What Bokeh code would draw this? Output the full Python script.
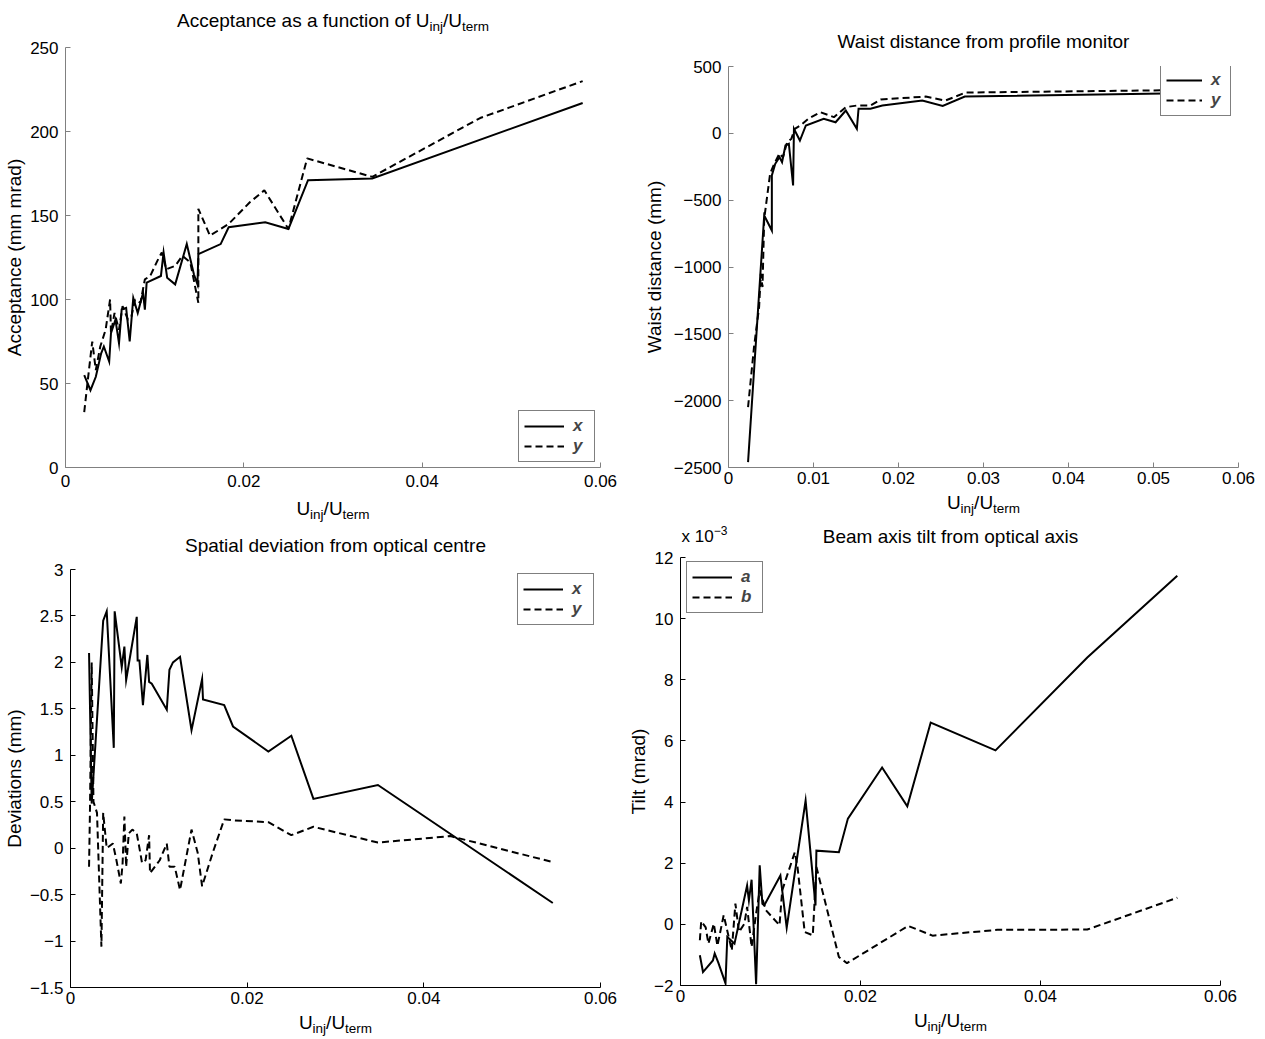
from bokeh.plotting import figure
from bokeh.models import Range1d, FixedTicker, Label
from bokeh.layouts import row, column
from bokeh.embed import file_html
from bokeh.resources import INLINE

# ---------------- data ----------------
# Acceptance (mm mrad) vs U_inj/U_term
acc_x_u = [0.0021, 0.0028, 0.0034, 0.0040, 0.0043, 0.0049, 0.0051, 0.0056, 0.0060, 0.0063,
           0.0068, 0.0072, 0.0076, 0.0081, 0.0087, 0.0089, 0.0091, 0.0107, 0.0110, 0.0114,
           0.0123, 0.0136, 0.0144, 0.0148, 0.0149, 0.0174, 0.0183, 0.0224, 0.0250, 0.0272,
           0.0344, 0.0580]
acc_x = [55, 46, 54, 68, 72, 63, 80, 88, 74, 94,
         95, 75, 101, 92, 104, 94, 110, 114, 128, 113,
         109, 133, 115, 109, 127, 133, 143, 146, 142, 171,
         172, 217]
acc_y_u = [0.0021, 0.0025, 0.0030, 0.0034, 0.0039, 0.0045, 0.0050, 0.0051, 0.0055, 0.0060,
           0.0064, 0.0070, 0.0074, 0.0078, 0.0084, 0.0089, 0.0095, 0.0103, 0.0108, 0.0113,
           0.0123, 0.0131, 0.0140, 0.0149, 0.0149, 0.0162, 0.0183, 0.0207, 0.0223, 0.0250,
           0.0271, 0.0344, 0.0465, 0.0580]
acc_y = [33, 52, 75, 58, 72, 82, 100, 80, 92, 82,
         96, 88, 90, 100, 98, 112, 114, 123, 128, 118,
         120, 126, 122, 98, 154, 138, 145, 158, 165, 142,
         184, 173, 208, 230]

# Waist distance (mm)
waist_x_u = [0.0023, 0.0042, 0.0051, 0.0051, 0.0055, 0.0060, 0.0063, 0.0067, 0.0071, 0.0076,
             0.0077, 0.0084, 0.0091, 0.0112, 0.0126, 0.0138, 0.0151, 0.0153, 0.0167, 0.0181,
             0.0228, 0.0252, 0.0278, 0.0590]
waist_x = [-2460, -615, -727, -315, -228, -178, -216, -91, -78, -390,
           34, -54, 59, 109, 83, 171, 34, 184, 184, 208,
           245, 205, 275, 305]
waist_y_u = [0.0023, 0.0030, 0.0036, 0.0038, 0.0040, 0.0042, 0.0049, 0.0053, 0.0060, 0.0064,
             0.0069, 0.0074, 0.0078, 0.0085, 0.0094, 0.0108, 0.0124, 0.0138, 0.0151, 0.0167,
             0.0179, 0.0232, 0.0255, 0.0279, 0.0590]
waist_y = [-2049, -1600, -1300, -1050, -1150, -640, -300, -240, -150, -180,
           -66, -40, 34, 60, 109, 158, 121, 196, 208, 208,
           253, 275, 245, 305, 328]

# Deviations (mm)
dev_x_u = [0.0021, 0.0024, 0.0037, 0.0041, 0.0049, 0.0050, 0.0058, 0.0061, 0.0063, 0.0075,
           0.0076, 0.0078, 0.0082, 0.0087, 0.0089, 0.0092, 0.0109, 0.0112, 0.0116, 0.0124,
           0.0137, 0.0149, 0.0150, 0.0174, 0.0184, 0.0224, 0.0250, 0.0275, 0.0348, 0.0546]
dev_x = [2.10, 0.48, 2.45, 2.55, 1.08, 2.55, 1.95, 2.17, 1.81, 2.49,
         2.02, 2.02, 1.54, 2.08, 1.79, 1.77, 1.49, 1.92, 2.00, 2.06,
         1.27, 1.82, 1.60, 1.54, 1.31, 1.04, 1.21, 0.53, 0.68, -0.59]
dev_y_u = [0.0021, 0.0022, 0.0024, 0.0026, 0.0030, 0.0035, 0.0037, 0.0041, 0.0048, 0.0052,
           0.0057, 0.0059, 0.0061, 0.0063, 0.0066, 0.0070, 0.0075, 0.0079, 0.0081, 0.0085,
           0.0089, 0.0090, 0.0101, 0.0109, 0.0112, 0.0118, 0.0124, 0.0137, 0.0144, 0.0149,
           0.0161, 0.0174, 0.0184, 0.0224, 0.0250, 0.0275, 0.0348, 0.0430, 0.0546]
dev_y = [-0.20, 0.38, 2.00, 0.50, 0.38, -1.06, 0.38, 0.00, 0.05, -0.13,
         -0.38, -0.16, 0.34, -0.20, 0.16, 0.20, 0.16, -0.05, -0.16, -0.13,
         0.14, -0.27, -0.13, 0.05, -0.20, -0.20, -0.45, 0.20, -0.05, -0.41,
         -0.05, 0.31, 0.30, 0.28, 0.14, 0.23, 0.06, 0.13, -0.15]

# Tilt (mrad), in units of 1e-3
tilt_a_u = [0.00215, 0.0025, 0.0036, 0.0038, 0.0042, 0.0050, 0.0052, 0.0056, 0.0060, 0.0074,
            0.0076, 0.0079, 0.0084, 0.0088, 0.0091, 0.0093, 0.0111, 0.0118, 0.0139, 0.0150,
            0.0151, 0.0176, 0.0186, 0.0224, 0.0252, 0.0278, 0.0350, 0.0452, 0.0552]
tilt_a = [-1.01, -1.56, -1.18, -0.95, -1.25, -1.93, -0.41, -0.52, -0.63, 1.27,
          0.78, 1.46, -1.96, 1.93, 0.67, 0.62, 1.60, -0.11, 4.05, 0.62,
          2.41, 2.36, 3.46, 5.13, 3.86, 6.60, 5.69, 8.73, 11.40]
tilt_b_u = [0.00215, 0.0023, 0.0028, 0.0031, 0.0037, 0.0041, 0.0048, 0.0057, 0.0061, 0.0065,
            0.0071, 0.0074, 0.0079, 0.0084, 0.0088, 0.0095, 0.0110, 0.0113, 0.0127, 0.0130,
            0.0138, 0.0147, 0.0151, 0.0176, 0.0185, 0.0253, 0.0280, 0.0352, 0.0452, 0.0552]
tilt_b = [-0.52, 0.10, -0.10, -0.63, 0.02, -0.70, 0.30, -0.85, 0.68, -0.25,
          0.02, 0.57, -0.74, 0.35, 1.11, 0.46, -0.03, 1.11, 2.36, 1.88,
          -0.25, -0.36, 1.88, -1.07, -1.27, -0.05, -0.37, -0.18, -0.17, 0.87]

# tick labels
x_ticks_2 = [0, 0.02, 0.04, 0.06]
x_labels_2 = ["0", "0.02", "0.04", "0.06"]
x_ticks_1 = [0, 0.01, 0.02, 0.03, 0.04, 0.05, 0.06]
x_labels_1 = ["0", "0.01", "0.02", "0.03", "0.04", "0.05", "0.06"]
acc_ticks = [0, 50, 100, 150, 200, 250]
acc_labels = ["0", "50", "100", "150", "200", "250"]
waist_ticks = [-2500, -2000, -1500, -1000, -500, 0, 500]
waist_labels = ["\u22122500", "\u22122000", "\u22121500", "\u22121000", "\u2212500", "0", "500"]
dev_ticks = [-1.5, -1, -0.5, 0, 0.5, 1, 1.5, 2, 2.5, 3]
dev_labels = ["\u22121.5", "\u22121", "\u22120.5", "0", "0.5", "1", "1.5", "2", "2.5", "3"]
tilt_ticks = [-2, 0, 2, 4, 6, 8, 10, 12]
tilt_labels = ["\u22122", "0", "2", "4", "6", "8", "10", "12"]

# ---------------- styling helpers ----------------
FONT = "Liberation Sans"
TICK_PX = 17
LAB_PX = 19
SUB_PX = 13.5
DASH = "7 4"
GRAY = "#808080"
FIX = 7  # compensates the renderer's baseline placement

ARIAL = {'A': 667, 'c': 500, 'e': 556, 'p': 556, 't': 278, 'a': 556, 'n': 556, ' ': 278,
         's': 500, 'f': 278, 'u': 556, 'i': 222, 'o': 556, 'U': 722, 'j': 222, '/': 278,
         'r': 333, 'm': 833, 'x': 500}


def tw(s, px):
    return sum(ARIAL.get(ch, 556) for ch in s) / 1000.0 * px


def lab(p, text, x, y, xoff=0, px=LAB_PX, align="left"):
    p.add_layout(Label(x=x, y=y + FIX, x_units="data", y_units="data", text=text,
                       x_offset=xoff, y_offset=0, text_font=FONT,
                       text_font_size=f"{px}px", text_align=align,
                       text_baseline="alphabetic", text_color="black"))


def composite(p, pieces, x, y):
    widths = [tw(t, SUB_PX if s else LAB_PX) for t, s in pieces]
    xo = -sum(widths) / 2.0
    for (t, s), w in zip(pieces, widths):
        lab(p, t, x, y - (6 if s else 0), xo, SUB_PX if s else LAB_PX)
        xo += w


UPIECES = [("U", False), ("inj", True), ("/U", False), ("term", True)]


def strip(fw, h, bl, br):
    s = figure(frame_width=fw, frame_height=h, min_border_left=bl, min_border_right=br,
               min_border_top=0, min_border_bottom=0,
               x_range=Range1d(0, 0.06), y_range=Range1d(0, h),
               x_axis_location=None, y_axis_location=None,
               output_backend="svg", toolbar_location=None)
    s.outline_line_color = None
    s.grid.visible = False
    return s


def make_fig(fw, fh, bl, br, bt, bb, yr, xticks, xlabels, yticks, ylabels,
             axis_color, ylabel, ystand, xstand):
    p = figure(frame_width=fw, frame_height=fh, min_border_left=bl, min_border_right=br,
               min_border_top=bt, min_border_bottom=bb,
               x_range=Range1d(0, 0.06), y_range=Range1d(*yr),
               output_backend="svg", toolbar_location=None)
    p.outline_line_color = None
    p.xgrid.grid_line_color = None
    p.ygrid.grid_line_color = None
    p.xaxis.ticker = FixedTicker(ticks=xticks)
    p.xaxis.major_label_overrides = {float(k): v for k, v in zip(xticks, xlabels)}
    p.yaxis.ticker = FixedTicker(ticks=yticks)
    p.yaxis.major_label_overrides = {float(k): v for k, v in zip(yticks, ylabels)}
    for ax in (p.xaxis[0], p.yaxis[0]):
        ax.axis_line_color = axis_color
        ax.axis_line_width = 1
        ax.major_tick_line_color = axis_color
        ax.major_tick_in = 5
        ax.major_tick_out = 0
        ax.minor_tick_line_color = None
        ax.major_label_text_font = FONT
        ax.major_label_text_font_size = f"{TICK_PX}px"
        ax.major_label_text_color = "black"
    p.yaxis.major_label_standoff = 7
    p.xaxis.major_label_standoff = xstand
    p.yaxis.axis_label = ylabel
    p.yaxis.axis_label_text_font = FONT
    p.yaxis.axis_label_text_font_size = f"{LAB_PX}px"
    p.yaxis.axis_label_text_font_style = "normal"
    p.yaxis.axis_label_text_color = "black"
    p.yaxis.axis_label_standoff = ystand
    return p


def style_legend(p, loc, gw=40, lw=16):
    lg = p.legend[0]
    lg.location = loc
    lg.margin = 0
    lg.padding = 5
    lg.spacing = 0
    lg.glyph_width = gw
    lg.glyph_height = 18
    lg.label_height = 18
    lg.label_width = lw
    lg.label_standoff = 9
    lg.label_text_font = FONT
    lg.label_text_font_size = "17px"
    lg.label_text_font_style = "bold italic"
    lg.border_line_color = "black"
    lg.border_line_width = 1
    lg.background_fill_color = "white"
    lg.background_fill_alpha = 1


# ---------------- top-left: acceptance (row 1: 525 px) ----------------
t1 = strip(535, 37, 65, 40)
composite(t1, [("Acceptance as a function of U", False), ("inj", True), ("/U", False), ("term", True)],
          0.03, 10)
p1 = make_fig(535, 420, 65, 40, 10, 29, (0, 250), x_ticks_2, x_labels_2,
              acc_ticks, acc_labels, GRAY, "Acceptance (mm mrad)", 2, 7)
p1.line(acc_x_u, acc_x, line_color="black", line_width=2, line_join="miter", legend_label="x")
p1.line(acc_y_u, acc_y, line_color="black", line_width=2, line_dash=DASH, legend_label="y")
style_legend(p1, (453, 5))
b1 = strip(535, 29, 65, 40)
composite(b1, UPIECES, 0.03, 10)

# ---------------- top-right: waist distance ----------------
t2 = strip(510, 56, 88, 27)
lab(t2, "Waist distance from profile monitor", 0.03, 8, 0, LAB_PX, "center")
p2 = make_fig(510, 401, 88, 27, 10, 24, (-2500, 500), x_ticks_1, x_labels_1,
              waist_ticks, waist_labels, GRAY, "Waist distance (mm)", 6, 4)
p2.line(waist_x_u, waist_x, line_color="black", line_width=2, line_join="miter", legend_label="x")
p2.line(waist_y_u, waist_y, line_color="black", line_width=2, line_dash=DASH, legend_label="y")
style_legend(p2, (432, 351), 36, 14)
b2 = strip(510, 34, 88, 27)
composite(b2, UPIECES, 0.03, 16)

# ---------------- bottom-left: deviations (row 2: 514 px) ----------------
t3 = strip(530, 34, 70, 25)
lab(t3, "Spatial deviation from optical centre", 0.03, 7, 0, LAB_PX, "center")
p3 = make_fig(530, 418, 70, 25, 10, 24, (-1.5, 3), x_ticks_2, x_labels_2,
              dev_ticks, dev_labels, "black", "Deviations (mm)", 2, 4)
p3.line(dev_x_u, dev_x, line_color="black", line_width=2, line_join="miter", legend_label="x")
p3.line(dev_y_u, dev_y, line_color="black", line_width=2, line_dash=DASH, legend_label="y")
style_legend(p3, (447, 362))
b3 = strip(530, 28, 70, 25)
composite(b3, UPIECES, 0.03, 10)

# ---------------- bottom-right: tilt ----------------
t4 = strip(540, 22, 53, 47)
lab(t4, "Beam axis tilt from optical axis", 0.03, 4.5, 0, LAB_PX, "center")
lab(t4, "x 10", 0, 4, 1, 17)
lab(t4, "\u22123", 0, 10, 1 + tw("x 10", 17), 12)
p4 = make_fig(540, 428, 53, 47, 10, 24, (-2, 12), x_ticks_2, x_labels_2,
              tilt_ticks, tilt_labels, "black", "Tilt (mrad)", 2, 4)
p4.line(tilt_a_u, tilt_a, line_color="black", line_width=2, line_join="miter", legend_label="a")
p4.line(tilt_b_u, tilt_b, line_color="black", line_width=2, line_dash=DASH, legend_label="b")
style_legend(p4, (6, 372))
b4 = strip(540, 30, 53, 47)
composite(b4, UPIECES, 0.03, 12)

q1 = column(t1, p1, b1, spacing=0)
q2 = column(t2, p2, b2, spacing=0)
q3 = column(t3, p3, b3, spacing=0)
q4 = column(t4, p4, b4, spacing=0)
layout = column(row(q1, q2, spacing=0), row(q3, q4, spacing=0), spacing=0)
open("out.html", "w").write(file_html(layout, INLINE))
